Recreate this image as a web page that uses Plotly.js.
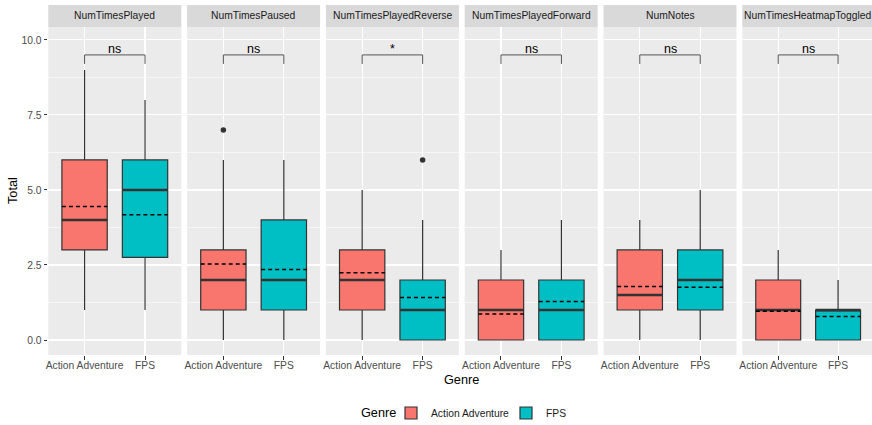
<!DOCTYPE html>
<html>
<head>
<meta charset="utf-8">
<script src="https://cdn.plot.ly/plotly-3.0.1.min.js"></script>
<style>
html,body{margin:0;padding:0;overflow:hidden;background:#fff;}
#chart{width:876px;height:425px;}
</style>
</head>
<body>
<div id="chart"></div>
<script>
// ---------- data ----------
const panels = ['NumTimesPlayed','NumTimesPaused','NumTimesPlayedReverse','NumTimesPlayedForward','NumNotes','NumTimesHeatmapToggled'];
const genres = ['Action Adventure','FPS'];
const sigLabels = ['ns','ns','*','ns','ns','ns'];
const sigY = 9.5;

const aaLow  = [1, 0, 0, 0, 0, 0];
const aaQ1   = [3, 1, 1, 0, 1, 0];
const aaMed  = [4, 2, 2, 1, 1.5, 1];
const aaQ3   = [6, 3, 3, 2, 3, 2];
const aaHigh = [9, 6, 5, 3, 4, 3];
const aaMean = [4.45, 2.53, 2.24, 0.87, 1.78, 0.96];

const fpsLow  = [1, 0, 0, 0, 0, 0];
const fpsQ1   = [2.75, 1, 0, 0, 1, 0];
const fpsMed  = [5, 2, 1, 1, 2, 1];
const fpsQ3   = [6, 4, 2, 2, 3, 1];
const fpsHigh = [8, 6, 4, 4, 5, 2];
const fpsMean = [4.17, 2.35, 1.42, 1.28, 1.76, 0.78];

const aaOutliers  = [[], [7], [], [], [], []];
const fpsOutliers = [[], [], [6], [], [], []];

const yTicks = [0, 2.5, 5, 7.5, 10];
const yTickText = ['0.0','2.5','5.0','7.5','10.0'];

// ---------- style ----------
const colors = ['#F8766D', '#00BFC4'];
const FONT = 'Liberation Sans, Arial, Helvetica, sans-serif';
const W = 876, H = 425;
const ML = 48, MR = 2, MT = 5, MB = 70;
const PW = W - ML - MR, PH = H - MT - MB;
const panelStep = 138.8, panelW = 133;
const stripH = 22;
const boxW = 0.75;

const stats = [
  {low: aaLow, q1: aaQ1, med: aaMed, q3: aaQ3, high: aaHigh, mean: aaMean, out: aaOutliers},
  {low: fpsLow, q1: fpsQ1, med: fpsMed, q3: fpsQ3, high: fpsHigh, mean: fpsMean, out: fpsOutliers}
];

const traces = [];
const layout = {
  width: W, height: H,
  margin: {l: ML, r: MR, t: MT, b: MB, pad: 0, autoexpand: false},
  paper_bgcolor: '#ffffff',
  plot_bgcolor: '#ebebeb',
  boxmode: 'overlay',
  font: {family: FONT, color: '#4d4d4d', size: 10.3},
  showlegend: true,
  legend: {
    orientation: 'h',
    xref: 'container', x: 391 / W, xanchor: 'left',
    yref: 'container', y: (H - 413) / H, yanchor: 'middle',
    font: {size: 10.3, color: '#1a1a1a', family: FONT},
    entrywidth: 70, entrywidthmode: 'pixels',
    itemclick: false, traceorder: 'normal', bgcolor: 'rgba(0,0,0,0)'
  },
  shapes: [], annotations: []
};

const yTop = (PH - stripH) / PH;

layout.yaxis = {
  range: [-0.5, 10.43], domain: [0, yTop],
  tickvals: yTicks, ticktext: yTickText,
  showgrid: true, gridcolor: '#ffffff', gridwidth: 1.1,
  minor: {dtick: 1.25, tick0: 0, showgrid: true, gridcolor: '#ffffff', gridwidth: 0.55, ticks: ''},
  zeroline: false, showline: false,
  ticks: 'outside', ticklen: 3.7, tickwidth: 1, tickcolor: '#333333',
  tickfont: {size: 10.3, color: '#4d4d4d', family: FONT},
  anchor: 'x', fixedrange: true
};

panels.forEach((name, i) => {
  const xa = i === 0 ? 'x' : 'x' + (i + 1);
  const axKey = i === 0 ? 'xaxis' : 'xaxis' + (i + 1);
  const left = 0.3 + i * panelStep;
  const d0 = left / PW, d1 = (left + panelW) / PW;
  layout[axKey] = {
    domain: [d0, Math.min(d1, 1)],
    range: [0.4, 2.6],
    tickvals: [1, 2], ticktext: genres,
    showgrid: true, gridcolor: '#ffffff', gridwidth: 1.1,
    zeroline: false, showline: false,
    ticks: 'outside', ticklen: 3.7, tickwidth: 1, tickcolor: '#333333',
    ticklabelstandoff: -3,
    tickfont: {size: 10.3, color: '#4d4d4d', family: FONT},
    anchor: 'y', fixedrange: true
  };

  // boxes
  stats.forEach((s, g) => {
    const pos = g + 1;
    traces.push({
      type: 'box', xaxis: xa, yaxis: 'y',
      name: genres[g], legendgroup: genres[g], showlegend: i === 0,
      x: [pos], q1: [s.q1[i]], median: [s.med[i]], q3: [s.q3[i]],
      lowerfence: [s.low[i]], upperfence: [s.high[i]],
      width: boxW, whiskerwidth: 0, boxpoints: false,
      fillcolor: colors[g],
      line: {color: '#333333', width: 1.2},
      hoverinfo: 'skip'
    });
  });
  // medians (thick) and means (dashed)
  stats.forEach((s, g) => {
    const pos = g + 1;
    traces.push({
      type: 'scatter', mode: 'lines', xaxis: xa, yaxis: 'y', showlegend: false,
      x: [pos - boxW / 2, pos + boxW / 2], y: [s.med[i], s.med[i]],
      line: {color: '#333333', width: 2.4}, hoverinfo: 'skip'
    });
    traces.push({
      type: 'scatter', mode: 'lines', xaxis: xa, yaxis: 'y', showlegend: false,
      x: [pos - boxW / 2, pos + boxW / 2], y: [s.mean[i], s.mean[i]],
      line: {color: '#000000', width: 1.5, dash: '4px,3px'}, hoverinfo: 'skip'
    });
    if (s.out[i].length) {
      traces.push({
        type: 'scatter', mode: 'markers', xaxis: xa, yaxis: 'y', showlegend: false,
        x: s.out[i].map(() => pos), y: s.out[i],
        marker: {color: '#333333', size: 5.5}, hoverinfo: 'skip'
      });
    }
  });
  // significance bracket
  traces.push({
    type: 'scatter', mode: 'lines', xaxis: xa, yaxis: 'y', showlegend: false,
    x: [1, 1, 2, 2], y: [sigY - 0.3, sigY, sigY, sigY - 0.3],
    line: {color: '#555555', width: 1}, hoverinfo: 'skip'
  });
  layout.annotations.push({
    xref: xa, yref: 'y', x: 1.5, y: sigY, yanchor: 'bottom', yshift: -3,
    text: sigLabels[i], showarrow: false,
    font: {size: 12.5, color: '#000000', family: FONT}
  });

  // strip
  layout.shapes.push({
    type: 'rect', xref: xa + ' domain', yref: 'paper',
    x0: 0, x1: 1, y0: yTop, y1: 1,
    fillcolor: '#d9d9d9', line: {width: 0}, layer: 'below'
  });
  layout.annotations.push({
    xref: xa + ' domain', yref: 'paper', x: 0.5, y: (yTop + 1) / 2,
    xanchor: 'center', yanchor: 'middle', text: name, showarrow: false,
    font: {size: 10.3, color: '#1a1a1a', family: FONT}
  });
});

// axis titles and legend title
layout.annotations.push({
  xref: 'paper', yref: 'paper', x: (461 - ML) / PW, y: (H - MB - 380) / PH,
  xanchor: 'center', yanchor: 'middle', text: 'Genre', showarrow: false,
  font: {size: 12.7, color: '#000000', family: FONT}
});
layout.annotations.push({
  xref: 'paper', yref: 'paper', x: (13 - ML) / PW, y: (H - MB - 191) / PH,
  xanchor: 'center', yanchor: 'middle', text: 'Total', textangle: -90, showarrow: false,
  font: {size: 12.7, color: '#000000', family: FONT}
});
layout.annotations.push({
  xref: 'paper', yref: 'paper', x: (378 - ML) / PW, y: (H - MB - 413) / PH,
  xanchor: 'center', yanchor: 'middle', text: 'Genre', showarrow: false,
  font: {size: 12.7, color: '#000000', family: FONT}
});

Plotly.newPlot('chart', traces, layout, {displayModeBar: false, staticPlot: true});
</script>
</body>
</html>
